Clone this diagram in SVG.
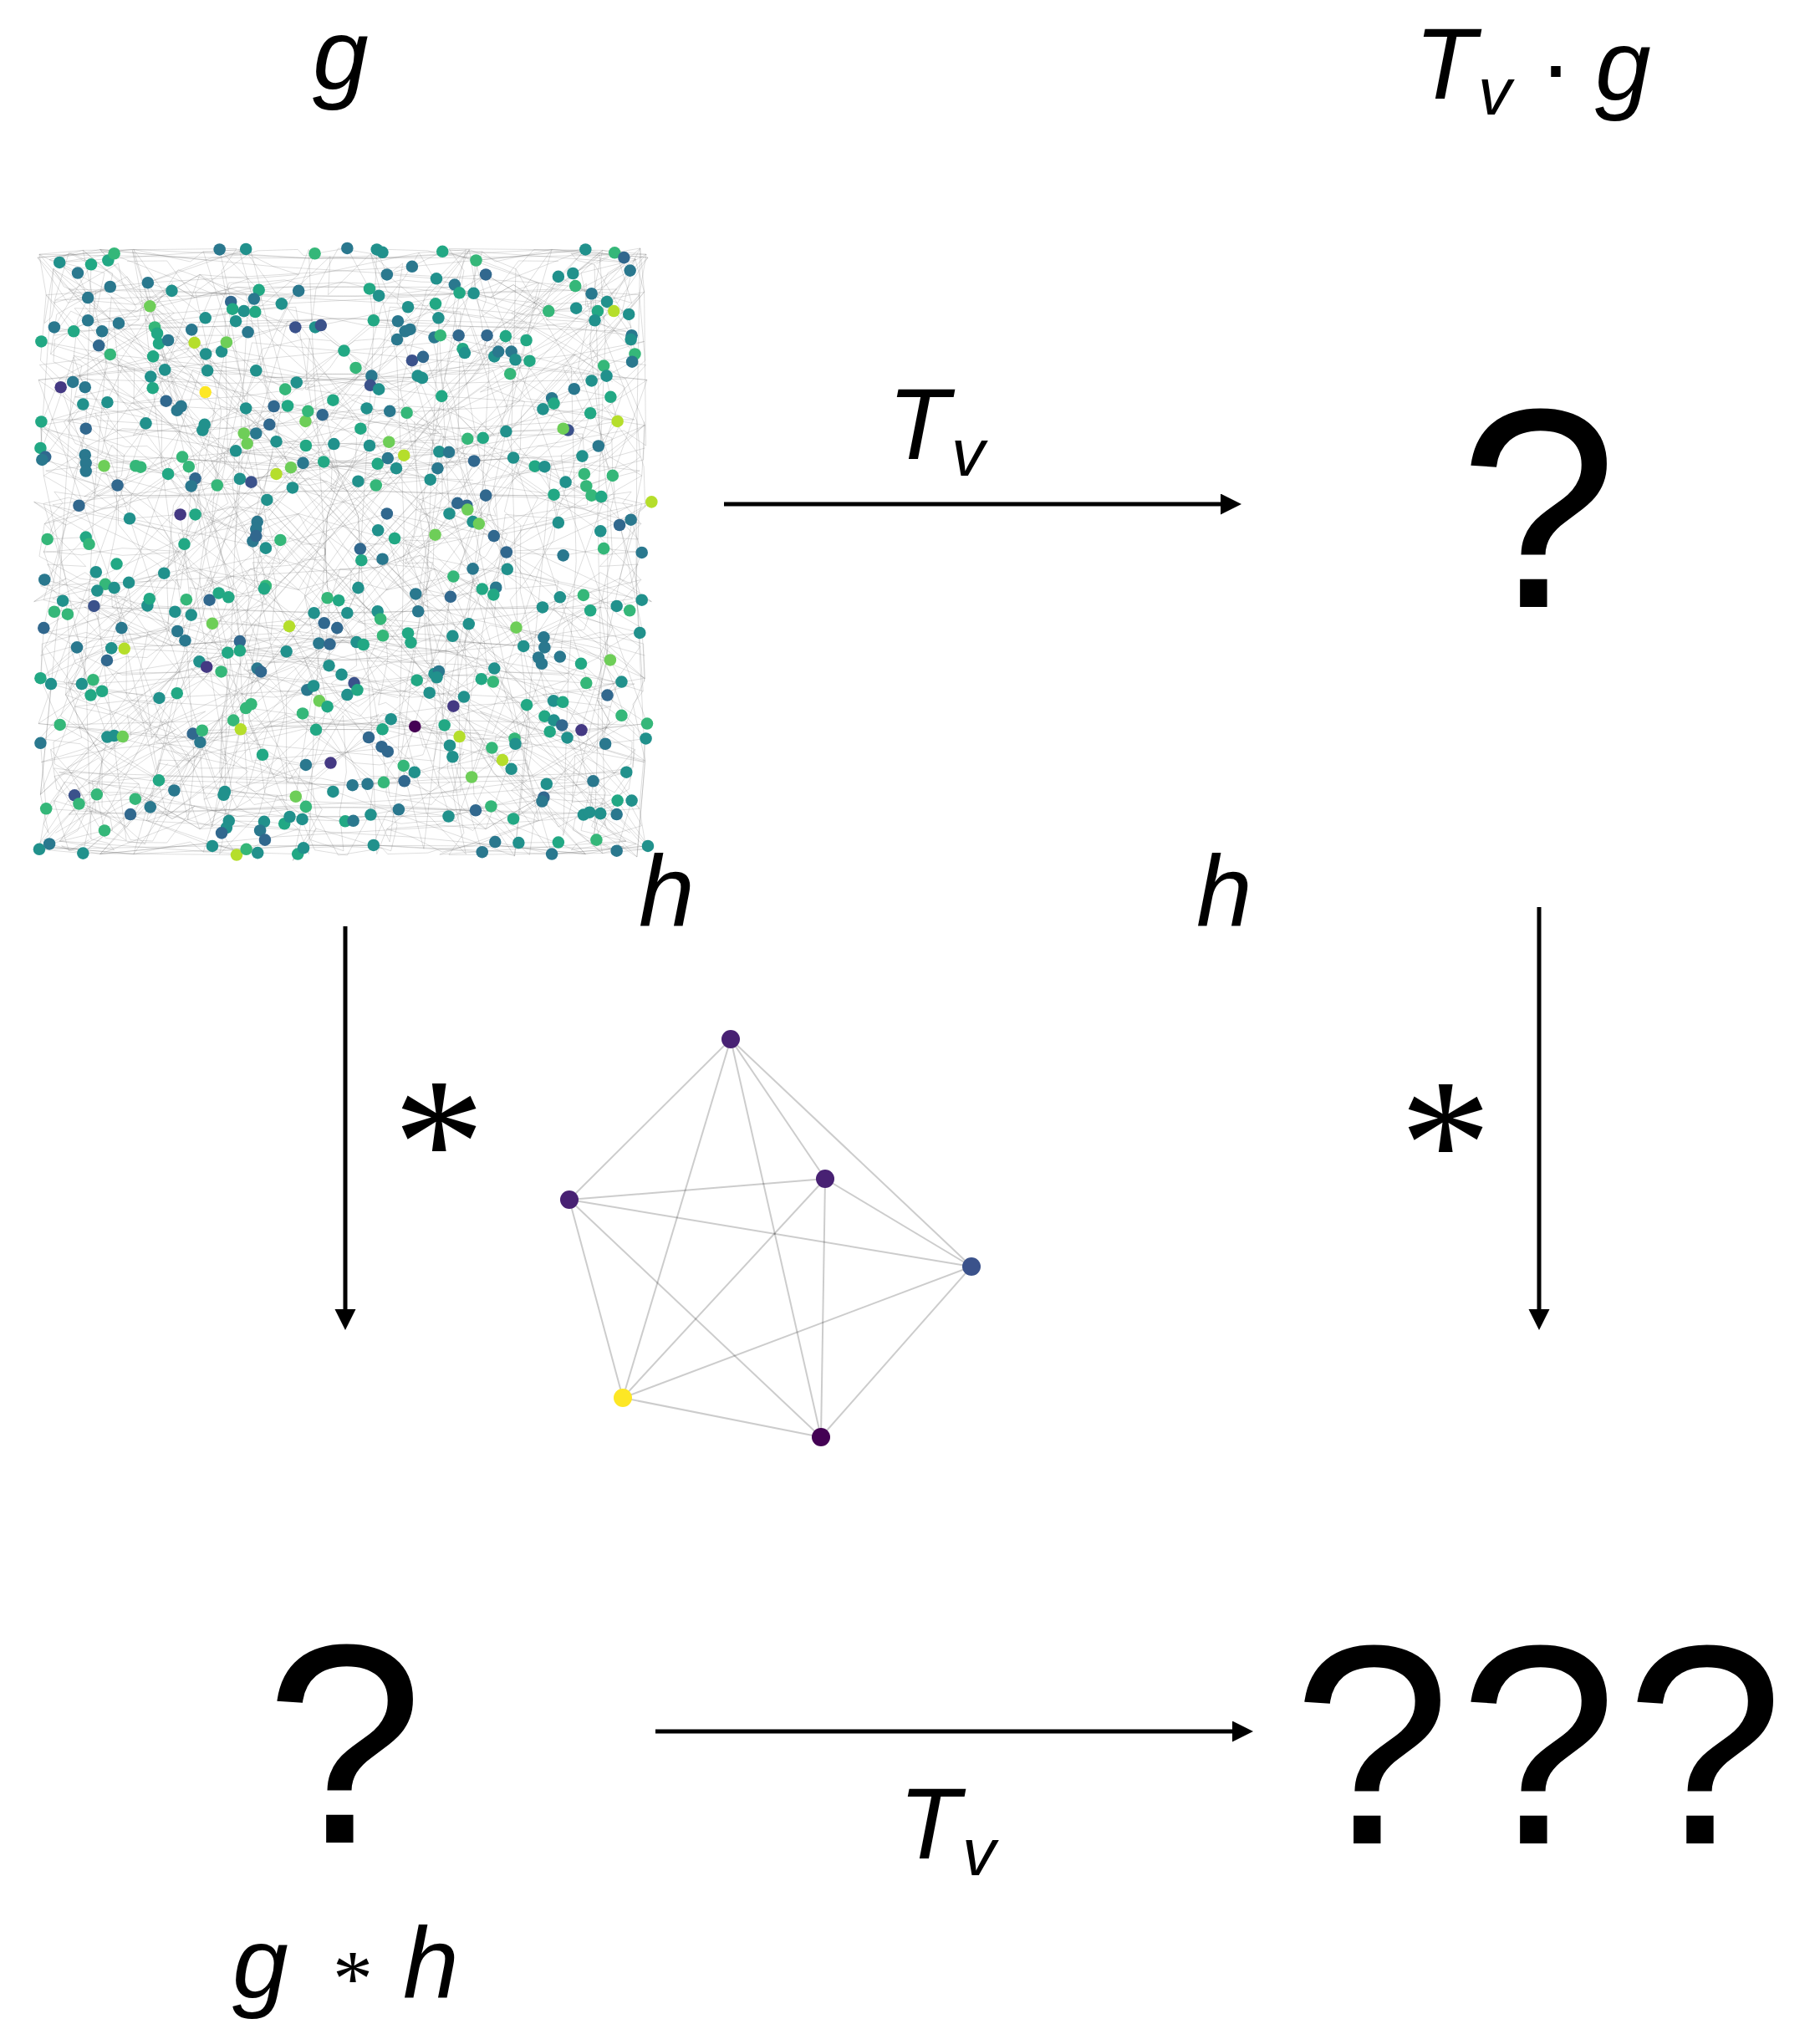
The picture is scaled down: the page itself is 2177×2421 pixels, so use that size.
<svg xmlns="http://www.w3.org/2000/svg" width="2177" height="2421" viewBox="0 0 2177 2421">
<style>
.m{font-family:"Liberation Sans",Arial,sans-serif;font-style:italic;font-size:120px;fill:#000}
.s{font-family:"Liberation Sans",Arial,sans-serif;font-style:italic;font-size:80px;fill:#000}
.q{font-family:"Liberation Sans",Arial,sans-serif;font-size:340px;fill:#000}
.st{font-family:"Liberation Serif","Times New Roman",serif;fill:#000}
.ge path{fill:none;stroke:#6f6f6f;stroke-opacity:0.24;stroke-width:2}
.a{fill:#21918c}.b{fill:#2a788e}.c{fill:#31688e}.d{fill:#3b528b}.k{fill:#443983}.e{fill:#22a884}.f{fill:#35b779}.g{fill:#6ece58}.h{fill:#b5de2b}.y{fill:#fde725}.p{fill:#440154}
.arr{stroke:#000;stroke-width:5;fill:none}
.he line{stroke:#000;stroke-opacity:0.2;stroke-width:2}
</style>
<defs>
<marker id="ah" markerUnits="userSpaceOnUse" markerWidth="26" markerHeight="26" refX="3" refY="12.5" orient="auto"><path d="M0,0L25,12.5L0,25z" fill="#000"/></marker>
</defs>
<rect width="2177" height="2421" fill="#fff"/>

<g id="graph-g" transform="translate(30 280) scale(0.4847)">
<g class="ge">
<g id="edges">
<path d="M85 70L545 37L303 120L955 80L1383 38L1107 146L633 172L155 213L445 390L40 265L210 297L570 337L1028 400L1455 190L1497 250L945 180L730 225L320 230L88 378L148 545L420 603L860 213L1200 290L1435 350L1340 484L1022 537L692 462L438 484L143 420L50 550L258 702L594 775L893 690L1157 745L1546 661L1420 733L1092 505L762 518L388 550L133 670"/>
<path d="M48 853L302 917L713 935L970 931L1277 921L1517 984L1230 1017L883 991L530 1005L213 1022L38 1096L331 1145L696 1125L1010 1085L1385 1108L1535 1208L1208 1245L962 1215L514 1200L86 1211L330 1348L808 1360L1102 1340L1484 1328L1402 1350L1045 1437L653 1438L272 1394L35 1518L462 1510L860 1508L1300 1530L1537 1510L1460 1432L1112 1422L693 1413L260 1432L52 1418"/>
<path d="M163 75L150 480L46 972L128 1020L203 1241L143 1528L522 1532L485 1478L594 868L570 728L642 383L577 138L480 38L512 185L420 692L302 917L376 980L500 1033L493 1376L668 1388L712 1115L822 873L855 350L868 38L893 100L1020 207L1047 690L1105 826L1128 876L1095 962L1057 1165L1035 1212L1055 1290L1128 1525"/>
<path d="M1493 90L1398 147L1316 105L1237 262L1186 252L1300 405L1278 432L1395 442L1462 462L1415 523L1375 548L1282 574L1334 612L1305 643L1316 712L1188 785L1328 793L1428 776L1522 786L1495 705L1467 718L1522 903L1460 918L1378 891L1320 896L1212 971L1280 995L1444 1051L1472 1105L1437 1138L1532 1245L1432 1258L1287 1357L1378 1433L1497 1398L1460 1522L1410 1495"/>
<path d="M40 463L42 557L150 585L195 572L228 620L133 670L55 753L150 748L48 853L93 905L72 932L170 918L238 972L245 1023L202 1052L140 1110L64 1110L162 1138L190 1128L241 1240L122 1385L177 1383L196 1472L60 1505L143 1528L35 1518L52 1418L38 1256L86 1211L38 1096L46 972L105 938L178 880L256 860L343 837L393 765L383 692L258 702"/>
<path d="M308 178L411 236L446 296L497 267L485 290L550 242L520 215L568 192L667 230L716 230L787 288L816 330L873 383L852 373L969 350L982 303L1080 283L1158 302L1245 313L1197 345L1300 405L1355 382L1445 402L1428 325L1505 296L1413 190L1292 190L1137 100L1013 172L918 260L760 410L698 437L614 425L545 430L443 470L375 435L315 380L210 297L118 365"/>
<path d="M536 612L618 592L656 576L737 562L870 567L935 546L1018 578L1108 560L1205 552L1258 573L1380 592L1398 645L1137 645L1090 670L1012 742L912 751L827 777L830 805L882 802L964 888L1050 895L1162 872L1156 890L1212 971L1230 1017L1267 1045L1320 1043L1372 1060L1304 1152L1238 1162L1152 1268L1072 1240L962 1215L903 1197L848 1242L754 1305L693 1310L586 1285L545 1170L448 1068"/>
<path d="M38 528L195 572L353 592L474 620L597 656L573 710L562 758L630 755L746 898L774 904L870 931L945 985L1055 992L1126 1098L1158 1072L1083 1142L998 1132L967 1101L1021 1079L818 1007L725 1010L645 1030L530 1028L430 1055L375 1133L414 1233L437 1225L532 1222L685 1183L718 1223L882 1222L1048 1262L1178 1298L1200 1320L1276 1400L1205 1443L1150 1412L1218 1502L1316 1501"/>
<path d="M1546 661L1467 718L1305 643L1258 573L1187 487L1130 503L1046 538L895 553L762 518L693 522L620 512L548 517L540 492L570 492L603 470L648 424L734 446L843 430L900 437L942 441L1092 505L1187 487L1328 480L1415 523L1450 596L1385 622L1422 648L1334 612L1205 552L1105 710L1157 745L1190 827L1128 876L1057 845L964 888L883 991L795 935L738 960L652 968L462 961"/>
<path d="M35 1518L133 1406L272 1394L309 1414L368 1373L330 1348L432 1254L503 1448L590 1450L640 1455L684 1444L790 1449L853 1433L922 1420L1045 1437L1112 1422L1150 1412L1205 1443L1280 1390L1287 1357L1402 1350L1393 1427L1462 1398L1537 1510L1300 1530L1160 1500L1128 1525L860 1508L687 1515L673 1530L574 1527L546 1518L462 1510L260 1432L143 1528"/>
<path d="M85 70L1000 1100L1460 1432L700 600L40 1096L1137 100L1535 1208L560 1300L300 120L1300 1530L920 215L52 1418L1383 38L500 1033L1500 900L210 297L1100 1340L1395 442L143 1528"/>
<path d="M1015 110L1060 125L1072 145L1107 146L1168 290L1210 310L1200 290L1140 250L1070 250L1025 250L1010 255L950 235L938 240L920 215L860 213L850 135L795 35L715 48L675 140L633 172L565 160L540 190L445 207L362 140L303 120L210 130L155 157L130 96L85 70L220 48L205 65L163 75L72 230L120 240L182 275L231 220L320 230L353 262"/>
<path d="M822 610L866 620L1000 606L1022 537L1108 560L1067 664L1092 680L1120 715L1047 690L1012 742L893 690L871 731L827 777L822 873L795 935L770 972L752 1012L750 1065L781 1087L812 1108L795 1137L746 1166L726 1152L696 1125L583 1080L573 1072L530 1005L455 903L478 886L502 896L590 875L594 868L630 755L594 775L570 745L420 692L393 765L410 940"/>
<path d="M1505 296L1490 198L1436 167L1358 128L1352 97L1455 46L1478 58L1383 38L1113 65L1030 43L955 80L893 100L1015 110L1137 100L1292 190L1360 183L1406 213L1495 260L1498 315L1435 350L1398 362L1278 432L1187 487L1340 484L1462 462L1445 402L1305 418L1028 400L980 355L855 350L670 366L642 383L570 337L450 337L418 268L330 270L326 245L316 302L348 412L385 425"/>
</g>
<use href="#edges" transform="matrix(-1 0 0 1 1568 0)"/>
<use href="#edges" transform="matrix(1 0 0 -1 0 1568)"/>
<use href="#edges" transform="matrix(-1 0 0 -1 1568 1568)"/>
<use href="#edges" transform="matrix(0 1 1 0 0 0)"/>
</g>
<g class="gn">
<circle class="a" cx="85" cy="70" r="15"/><circle class="e" cx="163" cy="75" r="15"/><circle class="e" cx="205" cy="65" r="15"/><circle class="f" cx="220" cy="48" r="15"/><circle class="b" cx="480" cy="38" r="15"/><circle class="a" cx="545" cy="37" r="15"/><circle class="f" cx="715" cy="48" r="15"/><circle class="b" cx="795" cy="35" r="15"/><circle class="a" cx="868" cy="38" r="15"/><circle class="a" cx="882" cy="45" r="15"/><circle class="e" cx="1030" cy="43" r="15"/><circle class="f" cx="1113" cy="65" r="15"/><circle class="a" cx="1383" cy="38" r="15"/><circle class="f" cx="1455" cy="46" r="15"/><circle class="c" cx="1478" cy="58" r="15"/><circle class="b" cx="1493" cy="90" r="15"/>
<circle class="b" cx="130" cy="96" r="15"/><circle class="b" cx="155" cy="157" r="15"/><circle class="b" cx="210" cy="130" r="15"/><circle class="b" cx="303" cy="120" r="15"/><circle class="a" cx="362" cy="140" r="15"/><circle class="e" cx="577" cy="138" r="15"/><circle class="b" cx="675" cy="140" r="15"/><circle class="e" cx="850" cy="135" r="15"/><circle class="a" cx="873" cy="152" r="15"/><circle class="b" cx="893" cy="100" r="15"/><circle class="b" cx="955" cy="80" r="15"/><circle class="a" cx="1015" cy="110" r="15"/><circle class="b" cx="1060" cy="125" r="15"/><circle class="e" cx="1072" cy="145" r="15"/><circle class="a" cx="1107" cy="146" r="15"/><circle class="c" cx="1137" cy="100" r="15"/><circle class="a" cx="1316" cy="105" r="15"/><circle class="a" cx="1352" cy="97" r="15"/><circle class="f" cx="1358" cy="128" r="15"/><circle class="b" cx="1398" cy="147" r="15"/><circle class="a" cx="1436" cy="167" r="15"/><circle class="h" cx="1453" cy="190" r="15"/><circle class="a" cx="1490" cy="198" r="15"/>
<circle class="g" cx="308" cy="178" r="15"/><circle class="c" cx="508" cy="167" r="15"/><circle class="e" cx="512" cy="185" r="15"/><circle class="a" cx="540" cy="190" r="15"/><circle class="e" cx="568" cy="192" r="15"/><circle class="b" cx="565" cy="160" r="15"/><circle class="a" cx="633" cy="172" r="15"/><circle class="a" cx="945" cy="180" r="15"/><circle class="e" cx="1013" cy="172" r="15"/><circle class="a" cx="1020" cy="207" r="15"/><circle class="f" cx="1292" cy="190" r="15"/><circle class="a" cx="1360" cy="183" r="15"/><circle class="e" cx="1413" cy="190" r="15"/><circle class="a" cx="1406" cy="213" r="15"/><circle class="b" cx="155" cy="213" r="15"/><circle class="b" cx="72" cy="230" r="15"/><circle class="e" cx="120" cy="240" r="15"/><circle class="b" cx="231" cy="220" r="15"/><circle class="b" cx="190" cy="240" r="15"/><circle class="c" cx="182" cy="275" r="15"/><circle class="f" cx="320" cy="230" r="15"/><circle class="e" cx="326" cy="245" r="15"/><circle class="e" cx="330" cy="270" r="15"/><circle class="b" cx="353" cy="262" r="15"/><circle class="b" cx="411" cy="236" r="15"/><circle class="a" cx="445" cy="207" r="15"/><circle class="a" cx="520" cy="215" r="15"/><circle class="b" cx="550" cy="242" r="15"/><circle class="d" cx="667" cy="230" r="15"/><circle class="a" cx="716" cy="230" r="15"/><circle class="d" cx="730" cy="225" r="15"/><circle class="e" cx="860" cy="213" r="15"/><circle class="b" cx="920" cy="215" r="15"/><circle class="b" cx="938" cy="240" r="15"/><circle class="b" cx="950" cy="235" r="15"/><circle class="b" cx="918" cy="260" r="15"/><circle class="b" cx="1010" cy="255" r="15"/><circle class="f" cx="1025" cy="250" r="15"/><circle class="c" cx="1070" cy="250" r="15"/><circle class="c" cx="1140" cy="250" r="15"/><circle class="e" cx="1186" cy="252" r="15"/><circle class="e" cx="1237" cy="262" r="15"/><circle class="b" cx="1497" cy="250" r="15"/><circle class="a" cx="1495" cy="260" r="15"/><circle class="f" cx="1505" cy="296" r="15"/><circle class="b" cx="1498" cy="315" r="15"/>
<circle class="e" cx="40" cy="265" r="15"/><circle class="f" cx="210" cy="297" r="15"/><circle class="e" cx="316" cy="302" r="15"/><circle class="a" cx="345" cy="335" r="15"/><circle class="h" cx="418" cy="268" r="15"/><circle class="a" cx="446" cy="296" r="15"/><circle class="a" cx="485" cy="290" r="15"/><circle class="g" cx="497" cy="267" r="15"/><circle class="a" cx="450" cy="337" r="15"/><circle class="a" cx="570" cy="337" r="15"/><circle class="e" cx="787" cy="288" r="15"/><circle class="f" cx="816" cy="330" r="15"/><circle class="d" cx="955" cy="312" r="15"/><circle class="c" cx="982" cy="303" r="15"/><circle class="e" cx="1080" cy="283" r="15"/><circle class="a" cx="1085" cy="293" r="15"/><circle class="a" cx="1158" cy="302" r="15"/><circle class="b" cx="1168" cy="290" r="15"/><circle class="b" cx="1200" cy="290" r="15"/><circle class="a" cx="1210" cy="310" r="15"/><circle class="e" cx="1245" cy="313" r="15"/><circle class="f" cx="1197" cy="345" r="15"/><circle class="f" cx="1428" cy="325" r="15"/><circle class="a" cx="1435" cy="350" r="15"/>
<circle class="k" cx="88" cy="378" r="15"/><circle class="b" cx="118" cy="365" r="15"/><circle class="b" cx="148" cy="378" r="15"/><circle class="a" cx="143" cy="420" r="15"/><circle class="a" cx="203" cy="415" r="15"/><circle class="a" cx="310" cy="352" r="15"/><circle class="e" cx="315" cy="380" r="15"/><circle class="c" cx="348" cy="412" r="15"/><circle class="b" cx="375" cy="435" r="15"/><circle class="b" cx="385" cy="425" r="15"/><circle class="y" cx="445" cy="390" r="15"/><circle class="f" cx="642" cy="383" r="15"/><circle class="a" cx="670" cy="366" r="15"/><circle class="b" cx="855" cy="350" r="15"/><circle class="d" cx="852" cy="373" r="15"/><circle class="a" cx="873" cy="383" r="15"/><circle class="a" cx="969" cy="350" r="15"/><circle class="a" cx="980" cy="355" r="15"/><circle class="e" cx="1028" cy="400" r="15"/><circle class="b" cx="1300" cy="405" r="15"/><circle class="e" cx="1305" cy="418" r="15"/><circle class="b" cx="1355" cy="382" r="15"/><circle class="a" cx="1398" cy="362" r="15"/><circle class="e" cx="1445" cy="402" r="15"/><circle class="a" cx="1278" cy="432" r="15"/>
<circle class="e" cx="40" cy="463" r="15"/><circle class="c" cx="150" cy="480" r="15"/><circle class="a" cx="298" cy="467" r="15"/><circle class="a" cx="438" cy="484" r="15"/><circle class="a" cx="443" cy="470" r="15"/><circle class="a" cx="545" cy="430" r="15"/><circle class="b" cx="570" cy="492" r="15"/><circle class="g" cx="540" cy="492" r="15"/><circle class="g" cx="548" cy="517" r="15"/><circle class="c" cx="603" cy="470" r="15"/><circle class="c" cx="614" cy="425" r="15"/><circle class="e" cx="648" cy="424" r="15"/><circle class="g" cx="692" cy="462" r="15"/><circle class="f" cx="698" cy="437" r="15"/><circle class="c" cx="734" cy="446" r="15"/><circle class="e" cx="760" cy="410" r="15"/><circle class="e" cx="828" cy="480" r="15"/><circle class="a" cx="843" cy="430" r="15"/><circle class="b" cx="900" cy="437" r="15"/><circle class="f" cx="942" cy="441" r="15"/><circle class="a" cx="762" cy="518" r="15"/><circle class="a" cx="850" cy="522" r="15"/><circle class="g" cx="898" cy="513" r="15"/><circle class="a" cx="620" cy="512" r="15"/><circle class="e" cx="693" cy="522" r="15"/><circle class="a" cx="520" cy="535" r="15"/><circle class="a" cx="1187" cy="487" r="15"/><circle class="f" cx="1092" cy="505" r="15"/><circle class="e" cx="1130" cy="503" r="15"/><circle class="d" cx="1340" cy="484" r="15"/><circle class="g" cx="1328" cy="480" r="15"/><circle class="e" cx="1395" cy="442" r="15"/><circle class="h" cx="1462" cy="462" r="15"/><circle class="b" cx="1415" cy="523" r="15"/>
<circle class="e" cx="38" cy="528" r="15"/><circle class="c" cx="50" cy="550" r="15"/><circle class="b" cx="42" cy="557" r="15"/><circle class="b" cx="148" cy="545" r="15"/><circle class="b" cx="150" cy="565" r="15"/><circle class="b" cx="150" cy="585" r="15"/><circle class="g" cx="195" cy="572" r="15"/><circle class="f" cx="273" cy="572" r="15"/><circle class="f" cx="285" cy="575" r="15"/><circle class="e" cx="353" cy="592" r="15"/><circle class="f" cx="388" cy="550" r="15"/><circle class="f" cx="404" cy="574" r="15"/><circle class="c" cx="420" cy="603" r="15"/><circle class="b" cx="410" cy="622" r="15"/><circle class="f" cx="474" cy="620" r="15"/><circle class="a" cx="530" cy="604" r="15"/><circle class="d" cx="558" cy="612" r="15"/><circle class="h" cx="620" cy="592" r="15"/><circle class="g" cx="656" cy="576" r="15"/><circle class="b" cx="686" cy="565" r="15"/><circle class="a" cx="660" cy="626" r="15"/><circle class="e" cx="737" cy="562" r="15"/><circle class="a" cx="822" cy="610" r="15"/><circle class="f" cx="866" cy="620" r="15"/><circle class="e" cx="870" cy="567" r="15"/><circle class="b" cx="895" cy="553" r="15"/><circle class="a" cx="916" cy="578" r="15"/><circle class="h" cx="935" cy="546" r="15"/><circle class="a" cx="1000" cy="606" r="15"/><circle class="b" cx="1018" cy="578" r="15"/><circle class="a" cx="1022" cy="537" r="15"/><circle class="b" cx="1046" cy="538" r="15"/><circle class="c" cx="1108" cy="560" r="15"/><circle class="a" cx="1205" cy="552" r="15"/><circle class="e" cx="1258" cy="573" r="15"/><circle class="a" cx="1282" cy="574" r="15"/><circle class="a" cx="1375" cy="548" r="15"/><circle class="f" cx="1380" cy="592" r="15"/><circle class="f" cx="1385" cy="622" r="15"/><circle class="f" cx="1398" cy="645" r="15"/><circle class="e" cx="1422" cy="648" r="15"/><circle class="f" cx="1450" cy="596" r="15"/><circle class="a" cx="1334" cy="612" r="15"/><circle class="e" cx="1305" cy="643" r="15"/><circle class="c" cx="228" cy="620" r="15"/><circle class="a" cx="597" cy="656" r="15"/><circle class="c" cx="1137" cy="645" r="15"/>
<circle class="c" cx="133" cy="670" r="15"/><circle class="a" cx="258" cy="702" r="15"/><circle class="k" cx="383" cy="692" r="15"/><circle class="e" cx="420" cy="692" r="15"/><circle class="b" cx="573" cy="710" r="15"/><circle class="b" cx="570" cy="728" r="15"/><circle class="b" cx="562" cy="758" r="15"/><circle class="c" cx="570" cy="745" r="15"/><circle class="a" cx="594" cy="775" r="15"/><circle class="f" cx="630" cy="755" r="15"/><circle class="c" cx="893" cy="690" r="15"/><circle class="a" cx="871" cy="731" r="15"/><circle class="e" cx="912" cy="751" r="15"/><circle class="g" cx="1012" cy="742" r="15"/><circle class="a" cx="1047" cy="690" r="15"/><circle class="c" cx="1067" cy="664" r="15"/><circle class="c" cx="1090" cy="670" r="15"/><circle class="g" cx="1092" cy="680" r="15"/><circle class="a" cx="1105" cy="710" r="15"/><circle class="g" cx="1120" cy="715" r="15"/><circle class="c" cx="1157" cy="745" r="15"/><circle class="a" cx="1316" cy="712" r="15"/><circle class="a" cx="1420" cy="733" r="15"/><circle class="c" cx="1467" cy="718" r="15"/><circle class="b" cx="1495" cy="705" r="15"/><circle class="h" cx="1546" cy="661" r="15"/><circle class="f" cx="55" cy="753" r="15"/><circle class="e" cx="150" cy="748" r="15"/><circle class="f" cx="158" cy="765" r="15"/><circle class="e" cx="393" cy="765" r="15"/>
<circle class="c" cx="827" cy="777" r="15"/><circle class="e" cx="830" cy="805" r="15"/><circle class="b" cx="882" cy="802" r="15"/><circle class="c" cx="1188" cy="785" r="15"/><circle class="b" cx="1328" cy="793" r="15"/><circle class="f" cx="1428" cy="776" r="15"/><circle class="b" cx="1522" cy="786" r="15"/><circle class="b" cx="1105" cy="826" r="15"/><circle class="a" cx="1190" cy="827" r="15"/><circle class="f" cx="1057" cy="845" r="15"/><circle class="b" cx="48" cy="853" r="15"/><circle class="a" cx="175" cy="834" r="15"/><circle class="e" cx="226" cy="814" r="15"/><circle class="a" cx="343" cy="837" r="15"/><circle class="f" cx="594" cy="868" r="15"/><circle class="e" cx="590" cy="875" r="15"/><circle class="f" cx="198" cy="864" r="15"/><circle class="a" cx="178" cy="880" r="15"/><circle class="a" cx="220" cy="873" r="15"/><circle class="a" cx="256" cy="860" r="15"/><circle class="a" cx="822" cy="873" r="15"/><circle class="b" cx="964" cy="888" r="15"/><circle class="c" cx="1050" cy="895" r="15"/><circle class="e" cx="1128" cy="876" r="15"/><circle class="b" cx="1162" cy="872" r="15"/><circle class="e" cx="1156" cy="890" r="15"/>
<circle class="a" cx="93" cy="905" r="15"/><circle class="f" cx="72" cy="932" r="15"/><circle class="f" cx="105" cy="938" r="15"/><circle class="d" cx="170" cy="918" r="15"/><circle class="a" cx="302" cy="917" r="15"/><circle class="e" cx="307" cy="900" r="15"/><circle class="a" cx="370" cy="932" r="15"/><circle class="f" cx="398" cy="902" r="15"/><circle class="a" cx="410" cy="940" r="15"/><circle class="c" cx="455" cy="903" r="15"/><circle class="e" cx="478" cy="886" r="15"/><circle class="e" cx="502" cy="896" r="15"/><circle class="f" cx="746" cy="898" r="15"/><circle class="e" cx="774" cy="904" r="15"/><circle class="a" cx="713" cy="935" r="15"/><circle class="c" cx="738" cy="960" r="15"/><circle class="c" cx="770" cy="972" r="15"/><circle class="a" cx="795" cy="935" r="15"/><circle class="a" cx="870" cy="931" r="15"/><circle class="f" cx="877" cy="950" r="15"/><circle class="b" cx="970" cy="931" r="15"/><circle class="a" cx="1095" cy="962" r="15"/><circle class="g" cx="1212" cy="971" r="15"/><circle class="a" cx="1277" cy="921" r="15"/><circle class="a" cx="1320" cy="896" r="15"/><circle class="f" cx="1378" cy="891" r="15"/><circle class="e" cx="1395" cy="929" r="15"/><circle class="a" cx="1460" cy="918" r="15"/><circle class="f" cx="1492" cy="929" r="15"/><circle class="a" cx="1522" cy="903" r="15"/><circle class="c" cx="46" cy="972" r="15"/><circle class="b" cx="238" cy="972" r="15"/><circle class="g" cx="462" cy="961" r="15"/><circle class="h" cx="652" cy="968" r="15"/><circle class="a" cx="1517" cy="984" r="15"/>
<circle class="b" cx="128" cy="1020" r="15"/><circle class="a" cx="213" cy="1022" r="15"/><circle class="h" cx="245" cy="1023" r="15"/><circle class="c" cx="202" cy="1052" r="15"/><circle class="b" cx="376" cy="980" r="15"/><circle class="b" cx="395" cy="1003" r="15"/><circle class="c" cx="530" cy="1005" r="15"/><circle class="e" cx="500" cy="1033" r="15"/><circle class="e" cx="530" cy="1028" r="15"/><circle class="a" cx="645" cy="1030" r="15"/><circle class="b" cx="725" cy="1010" r="15"/><circle class="c" cx="752" cy="1012" r="15"/><circle class="a" cx="818" cy="1007" r="15"/><circle class="e" cx="835" cy="1013" r="15"/><circle class="f" cx="883" cy="991" r="15"/><circle class="e" cx="945" cy="985" r="15"/><circle class="e" cx="952" cy="1008" r="15"/><circle class="a" cx="1055" cy="992" r="15"/><circle class="a" cx="1230" cy="1017" r="15"/><circle class="b" cx="1280" cy="995" r="15"/><circle class="b" cx="1282" cy="1020" r="15"/><circle class="b" cx="1267" cy="1045" r="15"/><circle class="b" cx="1275" cy="1060" r="15"/><circle class="b" cx="1320" cy="1043" r="15"/><circle class="e" cx="1372" cy="1060" r="15"/><circle class="g" cx="1444" cy="1051" r="15"/><circle class="a" cx="430" cy="1055" r="15"/><circle class="k" cx="448" cy="1068" r="15"/><circle class="f" cx="484" cy="1080" r="15"/><circle class="b" cx="573" cy="1072" r="15"/><circle class="c" cx="582" cy="1080" r="15"/><circle class="a" cx="750" cy="1065" r="15"/>
<circle class="e" cx="38" cy="1096" r="15"/><circle class="a" cx="64" cy="1110" r="15"/><circle class="a" cx="140" cy="1110" r="15"/><circle class="f" cx="168" cy="1100" r="15"/><circle class="e" cx="162" cy="1138" r="15"/><circle class="e" cx="190" cy="1128" r="15"/><circle class="a" cx="331" cy="1145" r="15"/><circle class="e" cx="375" cy="1133" r="15"/><circle class="b" cx="696" cy="1125" r="15"/><circle class="a" cx="712" cy="1115" r="15"/><circle class="a" cx="795" cy="1137" r="15"/><circle class="d" cx="812" cy="1108" r="15"/><circle class="e" cx="820" cy="1125" r="15"/><circle class="a" cx="781" cy="1087" r="15"/><circle class="e" cx="967" cy="1101" r="15"/><circle class="a" cx="1010" cy="1085" r="15"/><circle class="b" cx="1021" cy="1079" r="15"/><circle class="a" cx="1016" cy="1094" r="15"/><circle class="a" cx="1083" cy="1142" r="15"/><circle class="e" cx="1126" cy="1098" r="15"/><circle class="f" cx="1155" cy="1105" r="15"/><circle class="a" cx="1158" cy="1072" r="15"/><circle class="a" cx="998" cy="1132" r="15"/><circle class="f" cx="1385" cy="1108" r="15"/><circle class="a" cx="1472" cy="1105" r="15"/><circle class="c" cx="1437" cy="1138" r="15"/><circle class="a" cx="1304" cy="1152" r="15"/><circle class="e" cx="1327" cy="1155" r="15"/><circle class="g" cx="726" cy="1152" r="15"/><circle class="e" cx="746" cy="1166" r="15"/><circle class="f" cx="545" cy="1170" r="15"/><circle class="f" cx="558" cy="1160" r="15"/><circle class="k" cx="1057" cy="1165" r="15"/><circle class="e" cx="1238" cy="1162" r="15"/>
<circle class="f" cx="86" cy="1211" r="15"/><circle class="a" cx="203" cy="1241" r="15"/><circle class="a" cx="220" cy="1238" r="15"/><circle class="g" cx="241" cy="1240" r="15"/><circle class="c" cx="414" cy="1233" r="15"/><circle class="b" cx="432" cy="1254" r="15"/><circle class="f" cx="437" cy="1225" r="15"/><circle class="f" cx="514" cy="1200" r="15"/><circle class="h" cx="532" cy="1222" r="15"/><circle class="f" cx="685" cy="1183" r="15"/><circle class="e" cx="718" cy="1223" r="15"/><circle class="c" cx="848" cy="1242" r="15"/><circle class="e" cx="882" cy="1222" r="15"/><circle class="a" cx="903" cy="1197" r="15"/><circle class="p" cx="962" cy="1215" r="15"/><circle class="e" cx="1035" cy="1212" r="15"/><circle class="h" cx="1072" cy="1240" r="15"/><circle class="f" cx="1208" cy="1245" r="15"/><circle class="a" cx="1210" cy="1258" r="15"/><circle class="e" cx="1282" cy="1190" r="15"/><circle class="a" cx="1305" cy="1200" r="15"/><circle class="c" cx="1325" cy="1212" r="15"/><circle class="e" cx="1295" cy="1228" r="15"/><circle class="a" cx="1338" cy="1243" r="15"/><circle class="k" cx="1373" cy="1224" r="15"/><circle class="f" cx="1472" cy="1188" r="15"/><circle class="f" cx="1535" cy="1208" r="15"/><circle class="a" cx="1532" cy="1245" r="15"/><circle class="b" cx="38" cy="1256" r="15"/><circle class="a" cx="1048" cy="1262" r="15"/><circle class="f" cx="1152" cy="1268" r="15"/>
<circle class="e" cx="586" cy="1285" r="15"/><circle class="b" cx="693" cy="1310" r="15"/><circle class="k" cx="754" cy="1305" r="15"/><circle class="c" cx="880" cy="1265" r="15"/><circle class="c" cx="895" cy="1277" r="15"/><circle class="a" cx="1055" cy="1290" r="15"/><circle class="h" cx="1178" cy="1298" r="15"/><circle class="a" cx="1200" cy="1320" r="15"/><circle class="f" cx="934" cy="1312" r="15"/><circle class="a" cx="961" cy="1328" r="15"/><circle class="c" cx="936" cy="1350" r="15"/><circle class="g" cx="1102" cy="1340" r="15"/><circle class="b" cx="1432" cy="1258" r="15"/><circle class="e" cx="330" cy="1348" r="15"/><circle class="b" cx="368" cy="1373" r="15"/><circle class="a" cx="493" cy="1376" r="15"/><circle class="a" cx="490" cy="1384" r="15"/><circle class="b" cx="808" cy="1360" r="15"/><circle class="b" cx="845" cy="1357" r="15"/><circle class="a" cx="760" cy="1376" r="15"/><circle class="f" cx="885" cy="1353" r="15"/><circle class="a" cx="1287" cy="1357" r="15"/><circle class="b" cx="1402" cy="1350" r="15"/><circle class="a" cx="1484" cy="1328" r="15"/><circle class="d" cx="122" cy="1385" r="15"/><circle class="f" cx="177" cy="1383" r="15"/><circle class="f" cx="133" cy="1406" r="15"/><circle class="f" cx="272" cy="1394" r="15"/><circle class="g" cx="668" cy="1388" r="15"/><circle class="f" cx="693" cy="1413" r="15"/><circle class="c" cx="1280" cy="1390" r="15"/><circle class="b" cx="1276" cy="1400" r="15"/>
<circle class="f" cx="52" cy="1418" r="15"/><circle class="c" cx="260" cy="1432" r="15"/><circle class="b" cx="309" cy="1414" r="15"/><circle class="a" cx="853" cy="1433" r="15"/><circle class="b" cx="922" cy="1420" r="15"/><circle class="a" cx="1045" cy="1437" r="15"/><circle class="c" cx="1112" cy="1422" r="15"/><circle class="f" cx="1150" cy="1412" r="15"/><circle class="e" cx="1205" cy="1443" r="15"/><circle class="a" cx="1378" cy="1433" r="15"/><circle class="a" cx="1393" cy="1427" r="15"/><circle class="a" cx="1420" cy="1430" r="15"/><circle class="e" cx="1462" cy="1398" r="15"/><circle class="b" cx="1460" cy="1432" r="15"/><circle class="a" cx="1497" cy="1398" r="15"/><circle class="a" cx="503" cy="1448" r="15"/><circle class="a" cx="497" cy="1465" r="15"/><circle class="c" cx="485" cy="1478" r="15"/><circle class="a" cx="590" cy="1450" r="15"/><circle class="b" cx="580" cy="1472" r="15"/><circle class="e" cx="640" cy="1455" r="15"/><circle class="a" cx="653" cy="1438" r="15"/><circle class="a" cx="684" cy="1444" r="15"/><circle class="e" cx="790" cy="1449" r="15"/><circle class="b" cx="810" cy="1448" r="15"/><circle class="f" cx="196" cy="1472" r="15"/>
<circle class="a" cx="35" cy="1518" r="15"/><circle class="b" cx="60" cy="1505" r="15"/><circle class="a" cx="143" cy="1528" r="15"/><circle class="a" cx="462" cy="1510" r="15"/><circle class="h" cx="522" cy="1532" r="15"/><circle class="f" cx="546" cy="1518" r="15"/><circle class="a" cx="574" cy="1527" r="15"/><circle class="c" cx="592" cy="1495" r="15"/><circle class="e" cx="673" cy="1530" r="15"/><circle class="a" cx="687" cy="1515" r="15"/><circle class="a" cx="860" cy="1508" r="15"/><circle class="b" cx="1128" cy="1525" r="15"/><circle class="b" cx="1160" cy="1500" r="15"/><circle class="a" cx="1218" cy="1502" r="15"/><circle class="b" cx="1300" cy="1530" r="15"/><circle class="e" cx="1316" cy="1501" r="15"/><circle class="f" cx="1410" cy="1495" r="15"/><circle class="b" cx="1460" cy="1522" r="15"/><circle class="a" cx="1537" cy="1510" r="15"/>
</g>
</g>

<g id="graph-h">
<g class="he">
<line x1="874" y1="1243" x2="681" y2="1435"/><line x1="874" y1="1243" x2="987" y2="1410"/><line x1="874" y1="1243" x2="1162" y2="1515"/><line x1="874" y1="1243" x2="745" y2="1672"/><line x1="874" y1="1243" x2="982" y2="1719"/>
<line x1="681" y1="1435" x2="987" y2="1410"/><line x1="681" y1="1435" x2="1162" y2="1515"/><line x1="681" y1="1435" x2="745" y2="1672"/><line x1="681" y1="1435" x2="982" y2="1719"/>
<line x1="987" y1="1410" x2="1162" y2="1515"/><line x1="987" y1="1410" x2="745" y2="1672"/><line x1="987" y1="1410" x2="982" y2="1719"/>
<line x1="1162" y1="1515" x2="745" y2="1672"/><line x1="1162" y1="1515" x2="982" y2="1719"/>
<line x1="745" y1="1672" x2="982" y2="1719"/>
</g>
<circle cx="874" cy="1243" r="11" fill="#482173"/>
<circle cx="987" cy="1410" r="11" fill="#482173"/>
<circle cx="681" cy="1435" r="11" fill="#482173"/>
<circle cx="1162" cy="1515" r="11" fill="#3b528b"/>
<circle cx="745" cy="1672" r="11" fill="#fde725"/>
<circle cx="982" cy="1719" r="11" fill="#440154"/>
</g>

<g id="connectors">
<line class="arr" x1="866" y1="603" x2="1463" y2="603" marker-end="url(#ah)"/>
<line class="arr" x1="413" y1="1108" x2="413" y2="1569" marker-end="url(#ah)"/>
<line class="arr" x1="1841" y1="1085" x2="1841" y2="1569" marker-end="url(#ah)"/>
<line class="arr" x1="784" y1="2071" x2="1477" y2="2071" marker-end="url(#ah)"/>
</g>

<g id="label-g"><text class="m" x="374" y="107">g</text></g>
<g id="label-Tvg">
<text class="m" x="1692" y="118">T</text>
<text class="s" x="1768" y="137">v</text>
<text x="1861" y="118" text-anchor="middle" style="font-family:'Liberation Sans',Arial,sans-serif;font-size:120px">·</text>
<text class="m" x="1908" y="120">g</text>
</g>
<g id="label-Tv-top"><text class="m" x="1062" y="549">T</text><text class="s" x="1138" y="569">v</text></g>
<g id="q-top"><text class="q" x="1840" y="726" text-anchor="middle">?</text></g>
<g id="label-h1"><text class="m" x="764" y="1108">h</text></g>
<g id="label-h2"><text class="m" x="1431" y="1108">h</text></g>
<g id="star-left"><text class="st" x="525" y="1441" text-anchor="middle" font-size="220">*</text></g>
<g id="star-right"><text class="st" x="1729" y="1442" text-anchor="middle" font-size="220">*</text></g>
<g id="q-bottom-left"><text class="q" x="412" y="2204" text-anchor="middle">?</text></g>
<g id="label-Tv-bottom"><text class="m" x="1075" y="2223">T</text><text class="s" x="1151" y="2243">v</text></g>
<g id="q-bottom-right"><text class="q" x="1845" y="2205" text-anchor="middle" letter-spacing="10">???</text></g>
<g id="label-gh">
<text class="m" x="278" y="2390">g</text>
<text class="st" x="422" y="2399" text-anchor="middle" font-size="96">*</text>
<text class="m" x="482" y="2390">h</text>
</g>
</svg>
